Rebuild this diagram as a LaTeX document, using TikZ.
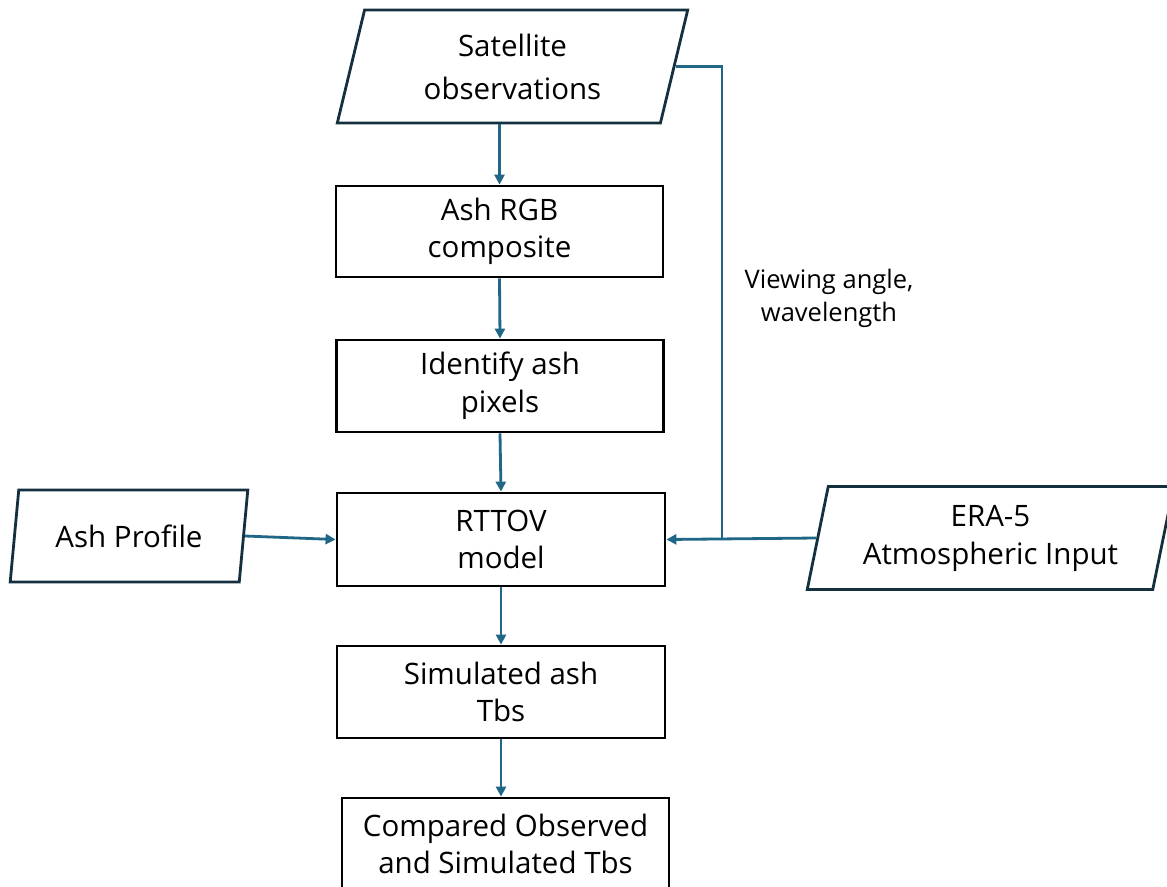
\documentclass[tikz,border=0pt]{standalone}
\usepackage{fontspec}
\setmainfont{Open Sans}
\usetikzlibrary{shapes.geometric,arrows.meta}
\definecolor{linkc}{HTML}{1F6687}
\definecolor{parac}{HTML}{14303E}
\tikzset{
  boxnode/.style={draw=black, line width=2.8pt, rectangle, minimum width=327pt, minimum height=92pt, inner sep=0pt, align=center, font=\fontsize{29.5}{37.5}\selectfont},
  paranode/.style={draw=parac, line width=2.8pt, trapezium, trapezium left angle=76, trapezium right angle=104, trapezium stretches=true, inner sep=0pt, align=center, font=\fontsize{29.5}{38}\selectfont},
  link/.style={draw=linkc, line width=2.8pt, -{Triangle[length=10pt,width=10pt]}},
  linkplain/.style={draw=linkc, line width=2.8pt},
  labnode/.style={align=center, font=\fontsize{25.5}{33}\selectfont}
}
\begin{document}
\begin{tikzpicture}[x=1pt,y=-1pt]
\useasboundingbox (0,0) rectangle (1167,886);
\clip (0,0) rectangle (1167,886);
\fill[white] (0,0) rectangle (1167,886);
\node[paranode, minimum width=351pt, minimum height=113pt, font=\fontsize{29.5}{43}\selectfont] (sat) at (512.5,66.5) {Satellite\\observations};
\node[boxnode, minimum height=91pt] (rgb) at (499.5,231.5) {Ash RGB\\composite};
\node[boxnode] (ident) at (500,386) {Identify ash\\pixels};
\node[boxnode, minimum width=328pt, minimum height=93pt] (rttov) at (501,539.5) {RTTOV\\model};
\node[boxnode, minimum width=328pt] (sim) at (501,692) {Simulated ash\\Tbs};
\node[boxnode] (comp) at (505.5,844) {Compared Observed\\and Simulated Tbs};
\node[paranode, minimum width=238pt, minimum height=92pt] (prof) at (129,536) {Ash Profile};
\node[paranode, minimum width=367pt, minimum height=103pt] (era) at (990.5,538) {ERA-5\\Atmospheric Input};
\node[labnode] (lab) at (829,298) {Viewing angle,\\wavelength};
\coordinate (j) at (722,538);
\draw[link] (rgb.north |- sat.south) -- (rgb.north);
\draw[link] (rgb.south) -- (ident.north);
\draw[link] (ident.south) -- (rttov.north);
\draw[link] (rttov.south) -- (sim.north);
\draw[link] (sim.south) -- (sim.south |- comp.north);
\draw[link] (prof.east) -- (rttov.west);
\draw[link] (era.west) -- (rttov.east);
\draw[linkplain] (sat.east) -| (j);
\end{tikzpicture}
\end{document}
